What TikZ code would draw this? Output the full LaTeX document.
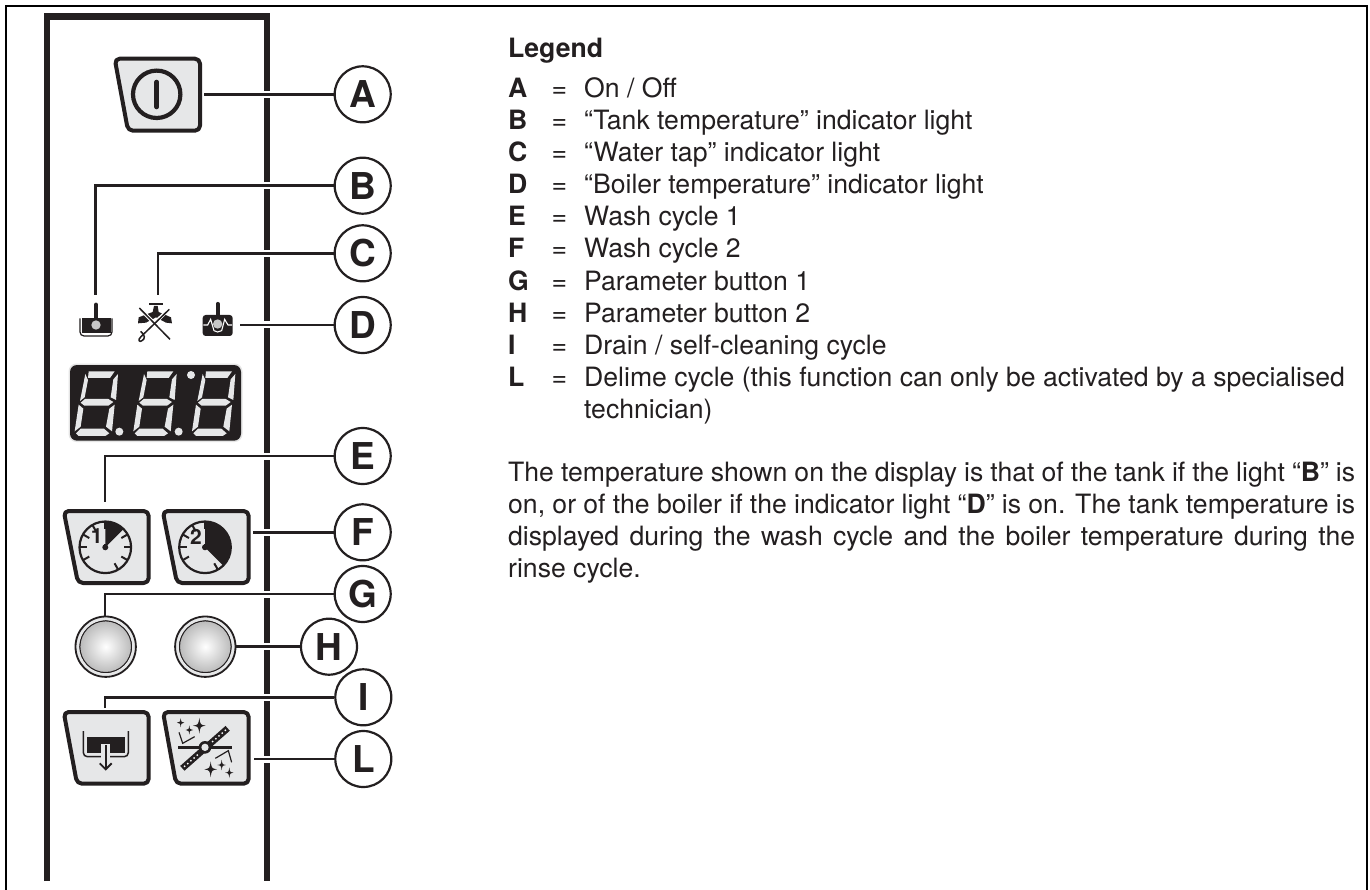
\documentclass[tikz,border=0pt]{standalone}
\usepackage{fontspec}
\setmainfont{TeX Gyre Heros}
\usetikzlibrary{calc}
\definecolor{ink}{HTML}{231F20}
\definecolor{btn}{HTML}{E6E7E8}
\tikzset{
 x=1pt,y=-1pt,
 ink line/.style={draw=ink,line width=2.5pt},
 callout/.style={circle,draw=ink,fill=white,line width=2.2pt,minimum size=56pt,inner sep=0pt,font=\fontsize{37}{37}\selectfont\bfseries,text=ink},
 wallline/.style={draw=ink,line width=6.5pt},
 gapline/.style={draw=white,line width=7pt},
 keybtn/.style={draw=ink,fill=btn,line width=4pt,rounded corners=5pt,line join=round},
 txt/.style={anchor=base west,inner sep=0pt,font=\fontsize{26.6}{30}\selectfont,text=ink},
 txtb/.style={anchor=base west,inner sep=0pt,font=\fontsize{26.6}{30}\selectfont\bfseries,text=ink},
 seg/.style={fill=btn},
}
\newcommand{\legrow}[3]{%
 \node[txtb] (k#1) at (508,#3) {#1};
 \node[txt] (e#1) at (551.5,#3) {=};
 \node[txt] (t#1) at (584,#3) {#2};}
\newcommand{\just}[1]{\hbox to 847pt{\spaceskip=.278em plus 1em minus .2em #1}}
\newcommand{\sevenseg}[1]{%
 \begin{scope}[shift={(#1,0)}]
 \fill[seg] (146,64)--(224,64)--(210,84)--(144,84)--cycle;
 \fill[seg] (136,72)--(144,90)--(134,142)--(120,153)--cycle;
 \fill[seg] (234,72)--(228,150)--(212,142)--(220,88)--cycle;
 \fill[seg] (122,158)--(135,147)--(205,147)--(220,156)--(205,167)--(133,167)--cycle;
 \fill[seg] (116,164)--(130,176)--(122,230)--(104,244)--cycle;
 \fill[seg] (224,164)--(216,244)--(198,230)--(208,176)--cycle;
 \fill[seg] (108,250)--(122,236)--(192,236)--(208,250)--(196,258)--(116,258)--cycle;
 \end{scope}}
\newcommand{\clockface}[3]{%
 \begin{scope}[shift={(#1,#2)}]
 \fill[ink] (0,0)--(0,-25.8) arc[start angle=-90,end angle=#3,radius=25.8]--cycle;
 \draw[ink,line width=2.2pt] (0,0) circle[radius=25.8pt];
 \foreach \a in {0,30,...,210,300,330}{\draw[ink,line width=2pt] (\a:25.8pt) -- (\a:18.5pt);}
 \draw[ink,line width=2pt] (0,0)--(0,-3);
 \fill[ink] (0,0) circle[radius=3pt];
 \end{scope}}
\newcommand{\sparkle}[3]{%
 \fill[ink] (#1,#2-#3) .. controls (#1+#3*.12,#2-#3*.12) .. (#1+#3*.8,#2) .. controls (#1+#3*.12,#2+#3*.12) .. (#1,#2+#3) .. controls (#1-#3*.12,#2+#3*.12) .. (#1-#3*.8,#2) .. controls (#1-#3*.12,#2-#3*.12) .. cycle;}
\begin{document}
\begin{tikzpicture}
\useasboundingbox (0,0) rectangle (1370,890);
\fill[white] (0,0) rectangle (1370,890);
\draw[black,line width=2pt] (6,890)--(6,6)--(1367,6)--(1367,890);
\draw[wallline,line join=miter] (47,881)--(47,16.5)--(267,16.5)--(267,881);
\node[callout] (A) at (362.7,94.3) {A};
\node[callout] (B) at (362.7,185.7) {B};
\node[callout] (C) at (362.7,253.3) {C};
\node[callout] (D) at (362.7,325) {D};
\node[callout] (E) at (362.7,456) {E};
\node[callout] (F) at (362.7,532.3) {F};
\node[callout] (G) at (362.7,594) {G};
\node[callout] (H) at (329,646.7) {H};
\node[callout] (I) at (363.3,697.3) {I};
\node[callout] (L) at (363.3,759) {L};
\coordinate (a0) at (204,94.3);
\coordinate (b0) at (95.7,295);
\coordinate (c0) at (158,295);
\coordinate (d0) at (240,325);
\coordinate (e0) at (105,501.7);
\coordinate (f0) at (253.3,532.3);
\coordinate (g0) at (105,616.7);
\coordinate (h0) at (235,646.7);
\coordinate (i0) at (105,708);
\coordinate (l0) at (254,759);
\foreach \n in {A,B,C,D,E,F,G,H,I,L}{\draw[gapline] (263,0|-\n) -- (271,0|-\n);}
\draw[ink line] (a0)--(A);
\draw[ink line] (b0)|-(B);
\draw[ink line] (c0)|-(C);
\draw[ink line] (d0)--(D);
\draw[ink line] (e0)|-(E);
\draw[ink line] (f0)--(F);
\draw[ink line] (g0)|-(G);
\draw[ink line] (h0)--(H);
\draw[ink line] (i0)|-(I);
\draw[ink line] (l0)--(L);
% key A
\draw[keybtn] (114.7,58.7)--(200,58.7)--(200,130.7)--(128,130.7)--cycle;
\draw[ink,line width=4.2pt] (156.7,94.3) circle[radius=23.7pt];
\draw[ink,line width=4.6pt,line cap=round] (156.7,82)--(156.7,107);
% key E F
\draw[keybtn] (63.7,511)--(148.7,511)--(148.7,583)--(78,583)--cycle;
\draw[keybtn] (162.7,511)--(248.7,511)--(248.7,583)--(177,583)--cycle;
\clockface{105.3}{547.3}{-45}
\clockface{205}{547.3}{45}
\node[inner sep=0pt,font=\fontsize{21}{21}\selectfont\bfseries,text=ink] (n1) at (96.7,536.5) {1};
\node[inner sep=0pt,font=\fontsize{21}{21}\selectfont\bfseries,text=ink] (n2) at (196,536.5) {2};
% key G H
\foreach \c in {105.7,205.3}{
 \shade[inner color=white,outer color=black!27] (\c,646.7) circle[radius=26pt];
 \draw[ink,line width=1.4pt] (\c,646.7) circle[radius=26pt];
 \draw[btn,line width=3.4pt] (\c,646.7) circle[radius=28.2pt];
 \draw[ink,line width=1.8pt] (\c,646.7) circle[radius=30.2pt];
}
% key I L
\draw[keybtn] (63.7,712)--(148.7,712)--(148.7,783.7)--(77,783.7)--cycle;
\draw[keybtn] (163,712)--(248.7,712)--(248.7,783.7)--(176,783.7)--cycle;
\begin{scope}[shift={(60,700)},scale=1/3]
 \fill[ink] (80,110) rectangle (196,160);
 \draw[ink,line width=1.5pt,rounded corners=4pt] (70,93)--(70,170)--(205,170)--(205,93);
 \fill[btn] (122,132) rectangle (151,176);
 \draw[ink,line width=1.8pt] (137,135)--(137,207);
 \draw[ink,line width=1.8pt] (119,190)--(137,208)--(155,190);
\end{scope}
\begin{scope}[shift={(60,700)},scale=1/3]
 \draw[ink,line width=3pt] (355,142)--(516,142);
 \draw[ink,line width=6.4pt] (367,205)--(503,85);
 \foreach \t in {.05,.12,.19,.26,.33,.67,.74,.81,.88,.95}{\fill[white] ($(367,205)!\t!(503,85)$) circle[radius=3];}
 \fill[ink] (435,142) circle[radius=19];
 \fill[btn] (435,142) circle[radius=11];
 \draw[ink,line width=1.2pt] (357,97)--(368,130)--(404,110);
 \draw[ink,line width=1.2pt] (515,187)--(505,152)--(466,175);
 \sparkle{362}{68}{14}\sparkle{388}{90}{14}\sparkle{418}{77}{24}
 \sparkle{452}{208}{24}\sparkle{485}{195}{16}\sparkle{508}{218}{16}
\end{scope}
\begin{scope}[shift={(40,230)},scale=1/3]
 \fill[ink] (125,265) rectangle (212,310);
 \draw[ink,line width=1.2pt,rounded corners=4pt] (120,265)--(120,318)--(216,318)--(216,265);
 \draw[ink,line width=4.2pt,line cap=round] (168,224)--(168,285);
 \fill[ink] (168,285) circle[radius=21];
 \fill[black!22] (168,285) circle[radius=14];
 \draw[ink,line width=2.4pt] (327,222)--(370,222);
 \fill[ink] (342,228)--(353,228)--(356,246)--(393,262)--(396,280)--(378,278)--(348,262)--(318,278)--(294,280)--(296,262)--(338,246)--cycle;
 \draw[white,line width=3.6pt] (296,232)--(390,328);
 \draw[white,line width=3.6pt] (388,236)--(300,322);
 \draw[ink,line width=1.5pt] (298,234)--(390,328);
 \draw[ink,line width=1.5pt] (388,238)--(303,320) .. controls (292,330) and (298,338) .. (306,332) .. controls (316,326) and (316,316) .. (302,304);
 \fill[ink,rounded corners=3pt] (488,255) rectangle (578,318);
 \draw[ink,line width=4.2pt,line cap=round] (533,222)--(533,275);
 \fill[black!22] (533,282) circle[radius=14];
 \draw[white,line width=1.1pt] (490,285)--(503,285)--(512,268)--(522,302)--(533,306)--(545,302)--(554,268)--(564,285)--(576,285);
\end{scope}
\fill[black!10,rounded corners=8pt] (68.5,363.5) rectangle (242.5,442);
\fill[ink,rounded corners=7pt] (70,365) rectangle (241,440.7);
\begin{scope}[shift={(40,350)},scale=1/3]
 \sevenseg{0}\sevenseg{176}\sevenseg{352}
 \fill[btn] (238,245) circle[radius=12];
 \fill[btn] (416,245) circle[radius=12];
 \fill[btn] (453,75) circle[radius=12];
\end{scope}
\node[txtb] (leg) at (508,58) {Legend};
\legrow{A}{On / Off}{97.5}
\legrow{B}{“Tank temperature” indicator light}{129.6}
\legrow{C}{“Water tap” indicator light}{161.7}
\legrow{D}{“Boiler temperature” indicator light}{193.8}
\legrow{E}{Wash cycle 1}{225.9}
\legrow{F}{Wash cycle 2}{258}
\legrow{G}{Parameter button 1}{290.1}
\legrow{H}{Parameter button 2}{322.2}
\legrow{I}{Drain / self-cleaning cycle}{354.3}
\legrow{L}{Delime cycle (this function can only be activated by a specialised}{386.4}
\node[txt] (tech) at (584,418.5) {technician)};
\node[txt] (p1) at (508,481) {\just{The temperature shown on the display is that of the tank if the light “\textbf{B}” is}};
\node[txt] (p2) at (508,513) {\just{on, or of the boiler if the indicator light “\textbf{D}” is on. The tank temperature is}};
\node[txt] (p3) at (508,545) {\just{displayed during the wash cycle and the boiler temperature during the}};
\node[txt] (p4) at (508,577) {rinse cycle.};
\end{tikzpicture}
\end{document}
